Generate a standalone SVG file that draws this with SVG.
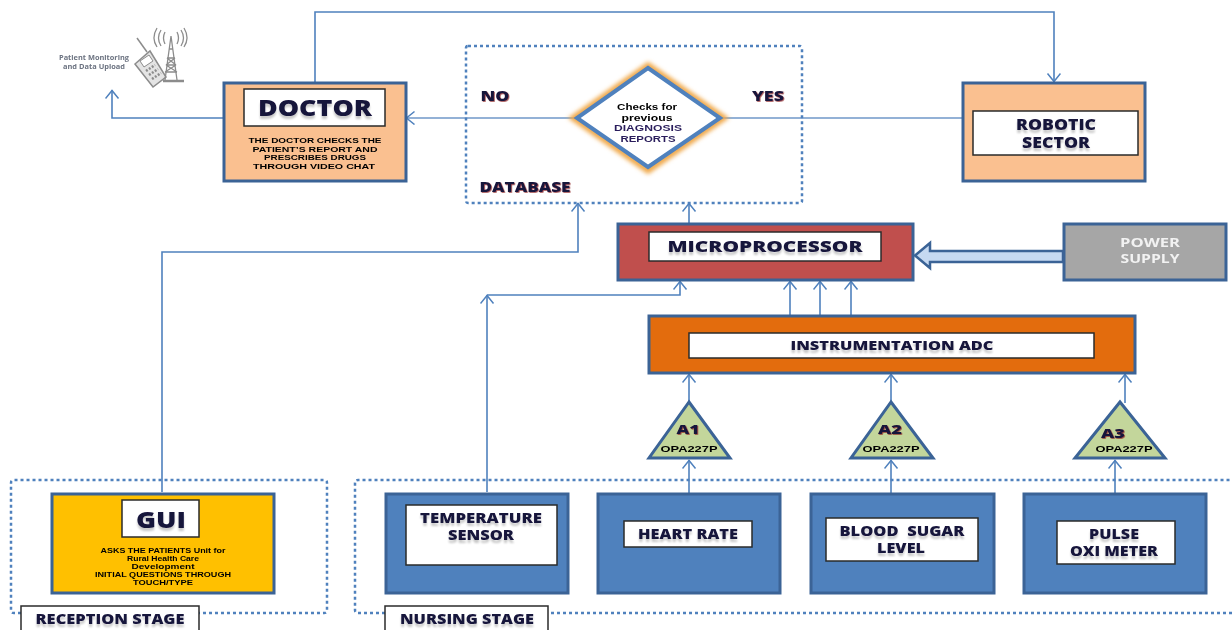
<svg xmlns="http://www.w3.org/2000/svg" width="1232" height="630" viewBox="0 0 1232 630">
<style>
text{font-family:"Open Sans","Liberation Sans",sans-serif;font-weight:700;fill:#14123a;text-anchor:middle}
.box{stroke:#3a6396;stroke-width:3}
.blue{fill:#4f81bd}
.peach{fill:#fac090}
.inner{fill:#fff;stroke:#2a2a2a;stroke-width:1.5}
.dot{fill:none;stroke:#4f81bd;stroke-width:2.500;stroke-dasharray:3 3}
.conn{fill:none;stroke:#4f81bd;stroke-width:1.600;marker-end:url(#arr)}
.thin{fill:none;stroke:#6f97c8;stroke-width:1.500;marker-end:url(#arr)}
.plain{fill:none;stroke:#6f97c8;stroke-width:1.500}
.tri{fill:#c3d69b;stroke:#3a6396;stroke-width:3;stroke-linejoin:miter}
.lbl{filter:url(#shade);font-weight:800}
.red{filter:url(#redshade);font-weight:800}
.small{fill:#000;font-family:"Liberation Sans",sans-serif;font-weight:700}
.icon{fill:none;stroke:#8c8c8c}
</style>
<defs>
<marker id="arr" markerUnits="userSpaceOnUse" markerWidth="16" markerHeight="16" refX="11" refY="7" orient="auto">
<path d="M2.500 0.500 L10.500 7 L2.500 13.500" fill="none" stroke="#4f81bd" stroke-width="1.500"/>
</marker>
<filter id="soft" x="0" y="0" width="100%" height="100%" filterUnits="userSpaceOnUse">
<feGaussianBlur stdDeviation="0.35"/>
</filter>
<filter id="shade" x="-10%" y="-30%" width="120%" height="170%">
<feOffset in="SourceAlpha" dy="3" result="o"/>
<feGaussianBlur in="o" stdDeviation="1.2" result="b"/>
<feComponentTransfer in="b" result="c"><feFuncA type="linear" slope="0.22"/></feComponentTransfer>
<feMerge><feMergeNode in="c"/><feMergeNode in="SourceGraphic"/></feMerge>
</filter>
<filter id="redshade" x="-10%" y="-30%" width="120%" height="170%">
<feDropShadow dx="0.8" dy="0.8" stdDeviation="0.6" flood-color="#8a2020" flood-opacity="0.8"/>
</filter>
<filter id="glow" x="-15%" y="-25%" width="130%" height="150%">
<feGaussianBlur stdDeviation="2.200"/>
</filter>
</defs>

<g id="diagram" filter="url(#soft)">
<rect width="1232" height="630" fill="#fff"/>
<g id="connectors">
<path class="conn" d="M315 82 V12 H1054 V82"/>
<path class="conn" stroke-width="2" d="M223 118 H112 V90"/>
<path class="thin" d="M575 118 H406"/>
<path class="plain" d="M722 118 H962"/>
<path class="conn" d="M162 492 V252 H578 V203"/>
<path class="conn" d="M689 224 V203"/>
<path class="conn" d="M487 492 V295"/>
<path class="conn" d="M487 295 H680 V281"/>
<path class="conn" d="M790 316 V281"/>
<path class="conn" d="M820 316 V281"/>
<path class="conn" d="M851 316 V281"/>
<path class="conn" d="M689 401 V374"/>
<path class="conn" d="M891 401 V374"/>
<path class="conn" d="M1125 403 V374"/>
<path class="conn" d="M689 493 V460"/>
<path class="conn" d="M891 493 V460"/>
<path class="conn" d="M1115 493 V460"/>
<path d="M1063 251 H930 V243 L915 255.500 L930 268 V262 H1063 Z" fill="#c6d9f1" stroke="#3a6396" stroke-width="2.500"/>
</g>

<g id="monitoring">
<text x="94" y="60" textLength="70" lengthAdjust="spacingAndGlyphs" style="font-size:7.500px;fill:#6b7280">Patient Monitoring</text>
<text x="94" y="69" textLength="62" lengthAdjust="spacingAndGlyphs" style="font-size:7.500px;fill:#6b7280">and Data Upload</text>
<path class="icon" stroke-width="1.500" d="M137 38 L147 52"/>
<path d="M135 64 L150 51 L166 77 L153 87 Z" fill="#e4e4e4" stroke="#8c8c8c" stroke-width="1.500"/>
<path d="M140 61 L149 55 L153 61 L144 67 Z" fill="#fff" stroke="#8c8c8c"/>
<path d="M146 71 L155 65 M149 75 L158 69 M152 79 L161 73" stroke="#8c8c8c" stroke-width="2.500" stroke-dasharray="2 1.500"/>
<path class="icon" stroke-width="1.300" d="M171 36 L165 80 M171 36 L177 80 M167 58 L175 58 M166 65 L176 65 M165 72 L177 72 M167 58 L176 65 M175 58 L166 65 M166 65 L177 72 M176 65 L165 72 M169 49 L173 49"/>
<path d="M163 81 H184" stroke="#8c8c8c" stroke-width="2.500"/>
<path class="icon" stroke-width="1.300" d="M165 32 Q162 38 165 44 M161 30 Q156 38 161 46 M157 28 Q151 38 157 47 M177 32 Q180 38 177 44 M181 30 Q186 38 181 46 M184 28 Q190 38 184 47"/>
</g>

<g id="doctor">
<rect class="box peach" x="224" y="83" width="182" height="98"/>
<rect class="inner" x="244" y="89" width="141" height="37"/>
<text class="lbl" x="315" y="116" textLength="114" lengthAdjust="spacingAndGlyphs" style="font-size:23px">DOCTOR</text>
<g style="font-size:7.400px">
<text class="small" x="315" y="143" textLength="133" lengthAdjust="spacingAndGlyphs">THE DOCTOR CHECKS THE</text>
<text class="small" x="315" y="151.500" textLength="125" lengthAdjust="spacingAndGlyphs">PATIENT’S REPORT AND</text>
<text class="small" x="315" y="160" textLength="102" lengthAdjust="spacingAndGlyphs">PRESCRIBES DRUGS</text>
<text class="small" x="314" y="168.500" textLength="122" lengthAdjust="spacingAndGlyphs">THROUGH VIDEO CHAT</text>
</g>
</g>

<g id="database">
<rect class="dot" x="466" y="46" width="336" height="157" rx="2"/>
<text class="red" x="495" y="101" textLength="29" lengthAdjust="spacingAndGlyphs" style="font-size:14px">NO</text>
<text class="red" x="768" y="101" textLength="32" lengthAdjust="spacingAndGlyphs" style="font-size:14px">YES</text>
<text class="red" x="525" y="192" textLength="91" lengthAdjust="spacingAndGlyphs" style="font-size:14px">DATABASE</text>
</g>

<g id="decision">
<path d="M648 66 L723 118 L648 170 L574 118 Z" fill="none" stroke="#f0a848" stroke-width="7" filter="url(#glow)"/>
<path d="M648 68 L720 118 L648 167 L577 118 Z" fill="#fff" stroke="#4f81bd" stroke-width="4"/>
<text class="small" x="647" y="110" style="font-size:8.800px" textLength="60" lengthAdjust="spacingAndGlyphs">Checks for</text>
<text class="small" x="647" y="120.500" style="font-size:8.800px" textLength="51" lengthAdjust="spacingAndGlyphs">previous</text>
<text class="small" x="648" y="131" textLength="68" lengthAdjust="spacingAndGlyphs" style="font-size:8.800px;fill:#2a1f5c">DIAGNOSIS</text>
<text class="small" x="648" y="141.500" textLength="55" lengthAdjust="spacingAndGlyphs" style="font-size:8.800px;fill:#2a1f5c">REPORTS</text>
</g>

<g id="robotic">
<rect class="box peach" x="963" y="83" width="182" height="98"/>
<rect class="inner" x="973" y="111" width="165" height="44"/>
<text class="lbl" x="1056" y="130" textLength="80" lengthAdjust="spacingAndGlyphs" style="font-size:15px">ROBOTIC</text>
<text class="lbl" x="1056" y="148" textLength="68" lengthAdjust="spacingAndGlyphs" style="font-size:15px">SECTOR</text>
</g>

<g id="microprocessor">
<rect class="box" fill="#c0504d" x="618" y="224" width="295" height="56"/>
<rect class="inner" x="649" y="232" width="232" height="29"/>
<text class="lbl" x="765" y="252" textLength="195" lengthAdjust="spacingAndGlyphs" style="font-size:16px">MICROPROCESSOR</text>
</g>

<g id="power">
<rect class="box" fill="#a6a6a6" x="1064" y="224" width="162" height="56"/>
<text x="1150" y="247" textLength="60" lengthAdjust="spacingAndGlyphs" style="font-size:12px;fill:#f2f2f2">POWER</text>
<text x="1150" y="263" textLength="59" lengthAdjust="spacingAndGlyphs" style="font-size:12px;fill:#f2f2f2">SUPPLY</text>
</g>

<g id="adc">
<rect class="box" fill="#e36c0a" x="649" y="316" width="486" height="57"/>
<rect class="inner" x="689" y="333" width="405" height="25"/>
<text class="lbl" x="892" y="350" textLength="203" lengthAdjust="spacingAndGlyphs" style="font-size:13px">INSTRUMENTATION ADC</text>
</g>

<g id="a1">
<path class="tri" d="M689 402 L730 458 H649 Z"/>
<text class="red" x="688" y="434" textLength="23" lengthAdjust="spacingAndGlyphs" style="font-size:13px">A1</text>
<text class="small" x="689" y="452" textLength="57" lengthAdjust="spacingAndGlyphs" style="font-size:9px">OPA227P</text>
</g>
<g id="a2">
<path class="tri" d="M891 402 L933 458 H851 Z"/>
<text class="red" x="890" y="434" textLength="24" lengthAdjust="spacingAndGlyphs" style="font-size:13px">A2</text>
<text class="small" x="891" y="452" textLength="57" lengthAdjust="spacingAndGlyphs" style="font-size:9px">OPA227P</text>
</g>
<g id="a3">
<path class="tri" d="M1120 402 L1165 458 H1075 Z"/>
<text class="red" x="1113" y="438" textLength="24" lengthAdjust="spacingAndGlyphs" style="font-size:13px">A3</text>
<text class="small" x="1124" y="452" textLength="57" lengthAdjust="spacingAndGlyphs" style="font-size:9px">OPA227P</text>
</g>

<g id="reception">
<path class="dot" d="M21 613 H14 Q11 613 11 610 V483 Q11 480 14 480 H324 Q327 480 327 483 V610 Q327 613 324 613 H199"/>
<rect class="box" fill="#ffc000" x="52" y="494" width="222" height="99"/>
<rect class="inner" x="122" y="500" width="77" height="37"/>
<text class="lbl" x="161" y="528" textLength="50" lengthAdjust="spacingAndGlyphs" style="font-size:23px">GUI</text>
<g style="font-size:6.400px">
<text class="small" x="163" y="553" textLength="125" lengthAdjust="spacingAndGlyphs">ASKS THE PATIENTS Unit for</text>
<text class="small" x="163" y="561" textLength="72" lengthAdjust="spacingAndGlyphs">Rural Health Care</text>
<text class="small" x="163" y="569" textLength="63" lengthAdjust="spacingAndGlyphs">Development</text>
<text class="small" x="163" y="577" textLength="136" lengthAdjust="spacingAndGlyphs">INITIAL QUESTIONS THROUGH</text>
<text class="small" x="163" y="585" textLength="60" lengthAdjust="spacingAndGlyphs">TOUCH/TYPE</text>
</g>
<rect class="inner" x="21" y="606" width="178" height="30"/>
<text class="lbl" x="110" y="624" textLength="149" lengthAdjust="spacingAndGlyphs" style="font-size:13.500px">RECEPTION STAGE</text>
</g>

<g id="nursing">
<path class="dot" d="M385 613 H358 Q355 613 355 610 V483 Q355 480 358 480 H1232 M1232 613 H548"/>
<rect class="inner" x="385" y="606" width="163" height="30"/>
<text class="lbl" x="467" y="624" textLength="134" lengthAdjust="spacingAndGlyphs" style="font-size:13.500px">NURSING STAGE</text>
</g>

<g id="temperature">
<rect class="box blue" x="386" y="494" width="182" height="99"/>
<rect class="inner" x="406" y="505" width="151" height="60"/>
<text class="lbl" x="481" y="523" textLength="122" lengthAdjust="spacingAndGlyphs" style="font-size:14.500px">TEMPERATURE</text>
<text class="lbl" x="481" y="540" textLength="66" lengthAdjust="spacingAndGlyphs" style="font-size:14.500px">SENSOR</text>
</g>
<g id="heart">
<rect class="box blue" x="598" y="494" width="182" height="99"/>
<rect class="inner" x="624" y="521" width="128" height="26"/>
<text class="lbl" x="688" y="539" textLength="100" lengthAdjust="spacingAndGlyphs" style="font-size:13.500px">HEART RATE</text>
</g>
<g id="blood">
<rect class="box blue" x="811" y="494" width="183" height="99"/>
<rect class="inner" x="826" y="518" width="152" height="43"/>
<text class="lbl" x="902" y="536" textLength="125" lengthAdjust="spacingAndGlyphs" xml:space="preserve" style="font-size:14px">BLOOD  SUGAR</text>
<text class="lbl" x="901" y="553" textLength="48" lengthAdjust="spacingAndGlyphs" style="font-size:14px">LEVEL</text>
</g>
<g id="pulse">
<rect class="box blue" x="1024" y="494" width="182" height="99"/>
<rect class="inner" x="1057" y="521" width="118" height="43"/>
<text class="lbl" x="1114" y="539" textLength="50" lengthAdjust="spacingAndGlyphs" style="font-size:14px">PULSE</text>
<text class="lbl" x="1114" y="556" textLength="88" lengthAdjust="spacingAndGlyphs" style="font-size:14px">OXI METER</text>
</g>
</g>
</svg>
